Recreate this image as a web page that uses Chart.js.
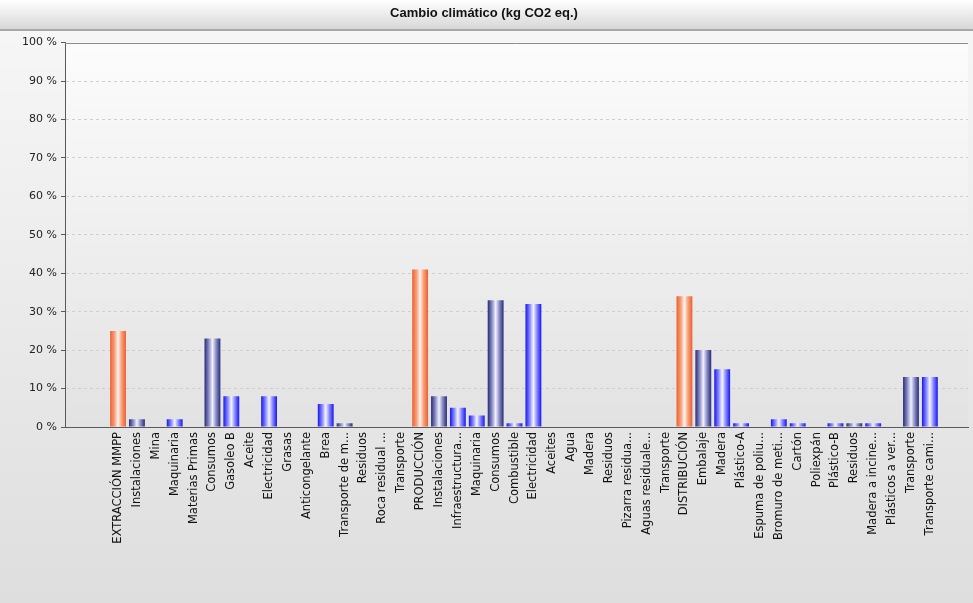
<!DOCTYPE html>
<html>
<head>
<meta charset="utf-8">
<script src="https://cdn.jsdelivr.net/npm/chart.js@4/dist/chart.umd.min.js"></script>
<style>
html, body { margin: 0; padding: 0; background: #e4e4e4; }
canvas { display: block; }
</style>
</head>
<body>
<canvas id="grafico" width="973" height="603"></canvas>
<script>
'use strict';

const titulo = "Cambio climático (kg CO2 eq.)";

const categorias = [
    "EXTRACCIÓN MMPP", "Instalaciones", "Mina", "Maquinaria", "Materias Primas",
    "Consumos", "Gasoleo B", "Aceite", "Electricidad", "Grasas",
    "Anticongelante", "Brea", "Transporte de m...", "Residuos", "Roca residual ...",
    "Transporte", "PRODUCCIÓN", "Instalaciones", "Infraestructura...", "Maquinaria",
    "Consumos", "Combustible", "Electricidad", "Aceites", "Agua",
    "Madera", "Residuos", "Pizarra residua...", "Aguas residuale...", "Transporte",
    "DISTRIBUCIÓN", "Embalaje", "Madera", "Plástico-A", "Espuma de poliu...",
    "Bromuro de meti...", "Cartón", "Poliexpán", "Plástico-B", "Residuos",
    "Madera a incine...", "Plásticos a ver...", "Transporte", "Transporte cami..."
];

// % del total de cada fase
const valores = [
    25, 2, 0, 2, 0,
    23, 8, 0, 8, 0,
    0, 6, 1, 0, 0,
    0, 41, 8, 5, 3,
    33, 1, 32, 0, 0,
    0, 0, 0, 0, 0,
    34, 20, 15, 1, 0,
    2, 1, 0, 1, 1,
    1, 0, 13, 13
];

// 0 = fase, 1 = grupo, 2 = elemento
const niveles = [
    0, 1, 2, 2, 1,
    1, 2, 2, 2, 2,
    2, 2, 1, 1, 2,
    1, 0, 1, 2, 2,
    1, 2, 2, 2, 2,
    2, 1, 2, 2, 1,
    0, 1, 2, 2, 2,
    2, 2, 2, 2, 1,
    2, 2, 1, 2
];

const ticksY = [0, 10, 20, 30, 40, 50, 60, 70, 80, 90, 100];

// colores borde / medio / brillo
const coloresNivel = [
    ["#ec5f2c", "#f7a07c", "#fff4ee"],
    ["#252a78", "#8f91c6", "#f2f2ff"],
    ["#1616ee", "#8a8aff", "#f6f6ff"]
];

const anchoBarra = 0.84;

function relleno(ctx){
    const chart = ctx.chart;
    const nivel = niveles[ctx.dataIndex];
    const c = coloresNivel[nivel];
    const xs = chart.scales.x;
    if(!chart.chartArea || !xs || ctx.type !== 'data')
        return c[0];

    const cx = xs.getPixelForValue(ctx.dataIndex);
    const w = Math.abs(xs.getPixelForValue(1) - xs.getPixelForValue(0)) * anchoBarra;
    const g = chart.ctx.createLinearGradient(cx - w / 2, 0, cx + w / 2, 0);
    g.addColorStop(0, c[0]);
    g.addColorStop(0.28, c[1]);
    g.addColorStop(0.5, c[2]);
    g.addColorStop(0.72, c[1]);
    g.addColorStop(1, c[0]);
    return g;
}

const fondo = {
    id: 'fondo',
    beforeDraw(chart){
        const c = chart.ctx;
        const a = chart.chartArea;
        c.save();

        var g = c.createLinearGradient(0, 30, 0, chart.height);
        g.addColorStop(0, "#f6f6f6");
        g.addColorStop(1, "#dedede");
        c.fillStyle = g;
        c.fillRect(0, 0, chart.width, chart.height);

        g = c.createLinearGradient(0, 0, 0, 30);
        g.addColorStop(0, "#ffffff");
        g.addColorStop(1, "#d6d6d6");
        c.fillStyle = g;
        c.fillRect(0, 0, chart.width, 30);
        c.fillStyle = "#a8a8a8";
        c.fillRect(0, 29, chart.width, 2);

        g = c.createLinearGradient(0, a.top, 0, a.bottom);
        g.addColorStop(0, "#fcfcfc");
        g.addColorStop(1, "#e2e2e2");
        c.fillStyle = g;
        c.fillRect(a.left, a.top, a.right - a.left, a.bottom - a.top);
        c.restore();
    },
    afterDraw(chart){
        const c = chart.ctx;
        const a = chart.chartArea;
        c.save();
        c.strokeStyle = "#8c8c8c";
        c.lineWidth = 1;
        c.beginPath();
        c.moveTo(a.left, Math.round(a.top) + 0.5);
        c.lineTo(a.right, Math.round(a.top) + 0.5);
        c.stroke();
        c.restore();
    }
};

const grafico = new Chart(document.getElementById('grafico'), {
    type: 'bar',
    data: {
        datasets: [{
            data: valores.map((v, i) => ({x: i, y: v})),
            backgroundColor: relleno,
            borderWidth: 0,
            barPercentage: anchoBarra,
            categoryPercentage: 1
        }]
    },
    options: {
        responsive: false,
        animation: false,
        layout: {
            padding: {top: 0, right: 5, bottom: 0, left: 0}
        },
        plugins: {
            legend: {display: false},
            tooltip: {enabled: false},
            title: {
                display: true,
                text: titulo,
                color: "#111111",
                font: {family: "'Liberation Sans', Arial, sans-serif", size: 13, weight: 'bold'},
                padding: {top: 6, bottom: 21}
            }
        },
        scales: {
            x: {
                type: 'linear',
                bounds: 'data',
                offset: false,
                min: -2.81,
                max: 45.02,
                grid: {display: false, drawTicks: false},
                border: {color: "#5a5a5a", width: 1},
                afterBuildTicks: (s) => {
                    s.ticks = categorias.map((_, i) => ({value: i}));
                },
                afterFit: (s) => { s.height = 176; },
                ticks: {
                    autoSkip: false,
                    maxRotation: 90,
                    minRotation: 90,
                    padding: 5,
                    color: "#111111",
                    font: {family: "'DejaVu Sans', sans-serif", size: 11.5},
                    callback: (v) => categorias[Math.round(v)] || ''
                }
            },
            y: {
                min: 0,
                max: 100,
                afterBuildTicks: (s) => {
                    s.ticks = ticksY.map(v => ({value: v}));
                },
                afterFit: (s) => { s.width = 65; },
                grid: {
                    color: (ctx) => (ctx.tick && (ctx.tick.value === 0 || ctx.tick.value === 100)) ? 'rgba(0,0,0,0)' : "#cfcfcf",
                    tickColor: "#5a5a5a",
                    tickLength: 4
                },
                border: {color: "#5a5a5a", width: 1, dash: [3, 3]},
                ticks: {
                    padding: 4,
                    color: "#222222",
                    font: {family: "'DejaVu Sans', sans-serif", size: 11},
                    callback: (v) => v + " %"
                }
            }
        }
    },
    plugins: [fondo]
});
</script>
</body>
</html>
